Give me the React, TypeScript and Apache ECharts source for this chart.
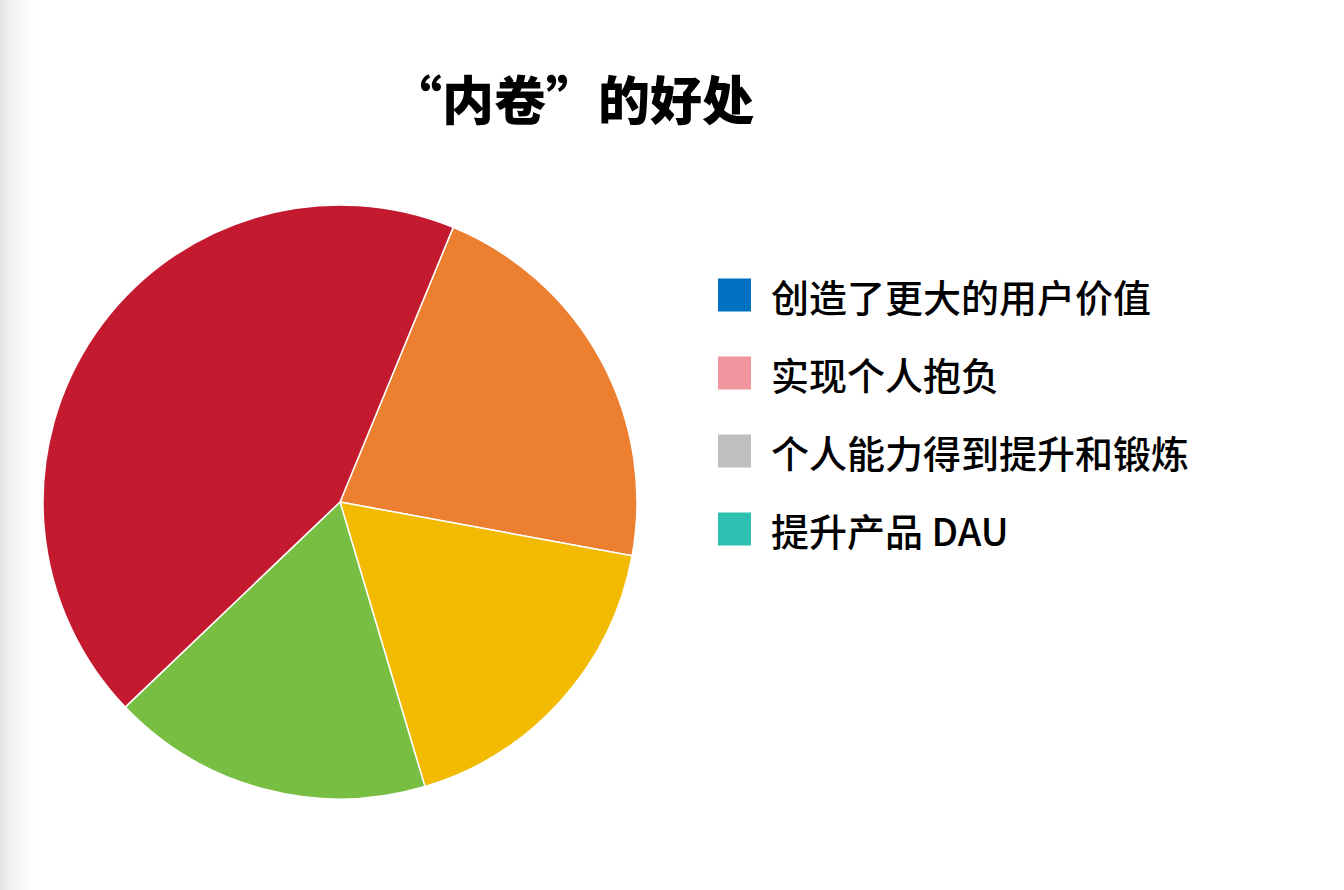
import React, { useEffect, useRef } from "react";
import * as echarts from "echarts";

const titleText = "“内卷”的好处";
const categories = ["创造了更大的用户价值", "实现个人抱负", "个人能力得到提升和锻炼", "提升产品 DAU"];
const values = [21.7, 17.5, 17.5, 43.4];
const sliceColors = ["#ED7F31", "#F2BA00", "#77BE43", "#C41A30"];
const legendColors = ["#0070C0", "#F1959F", "#BFBFBF", "#2EC1B1"];

export default function App() {
  const ref = useRef<HTMLDivElement>(null);
  useEffect(() => {
    if (!ref.current) return;
    const chart = echarts.init(ref.current, undefined, { renderer: "svg" });
    chart.setOption({
      animation: false,
      backgroundColor: "#ffffff",
      graphic: [
        {
          type: "rect",
          z: -10,
          silent: true,
          shape: { x: 0, y: 0, width: 42, height: 890 },
          style: {
            fill: new echarts.graphic.LinearGradient(0, 0, 1, 0, [
              { offset: 0, color: "#e4e4e4" },
              { offset: 1, color: "rgba(255,255,255,0)" },
            ]),
          },
        },
        {
          type: "text",
          x: 572,
          y: 97,
          style: {
            text: titleText,
            fill: "#000000",
            font: '900 52px "Noto Sans CJK SC", sans-serif',
            textAlign: "center",
            textVerticalAlign: "middle",
          },
        },
      ],
      legend: {
        orient: "vertical",
        left: 716,
        top: 276,
        padding: 0,
        itemWidth: 35,
        itemHeight: 35,
        itemGap: 40,
        icon: "rect",
        selectedMode: false,
        textStyle: {
          fontSize: 38,
          lineHeight: 38,
          fontWeight: 500,
          color: "#000000",
          fontFamily: '"Noto Sans CJK SC", sans-serif',
          padding: [0, 0, 0, 14],
        },
        data: categories.map((name, i) => ({
          name,
          itemStyle: { color: legendColors[i] },
        })),
      },
      series: [
        {
          type: "pie",
          center: [340, 502],
          radius: 297,
          startAngle: 67.6,
          clockwise: true,
          label: { show: false },
          labelLine: { show: false },
          emphasis: { disabled: true },
          itemStyle: { borderColor: "#ffffff", borderWidth: 1.5 },
          data: categories.map((name, i) => ({
            name,
            value: values[i],
            itemStyle: { color: sliceColors[i] },
          })),
        },
      ],
    });
    return () => chart.dispose();
  }, []);
  return (
    <div
      ref={ref}
      style={{ position: "fixed", left: 0, top: 0, width: 1344, height: 890 }}
    />
  );
}
